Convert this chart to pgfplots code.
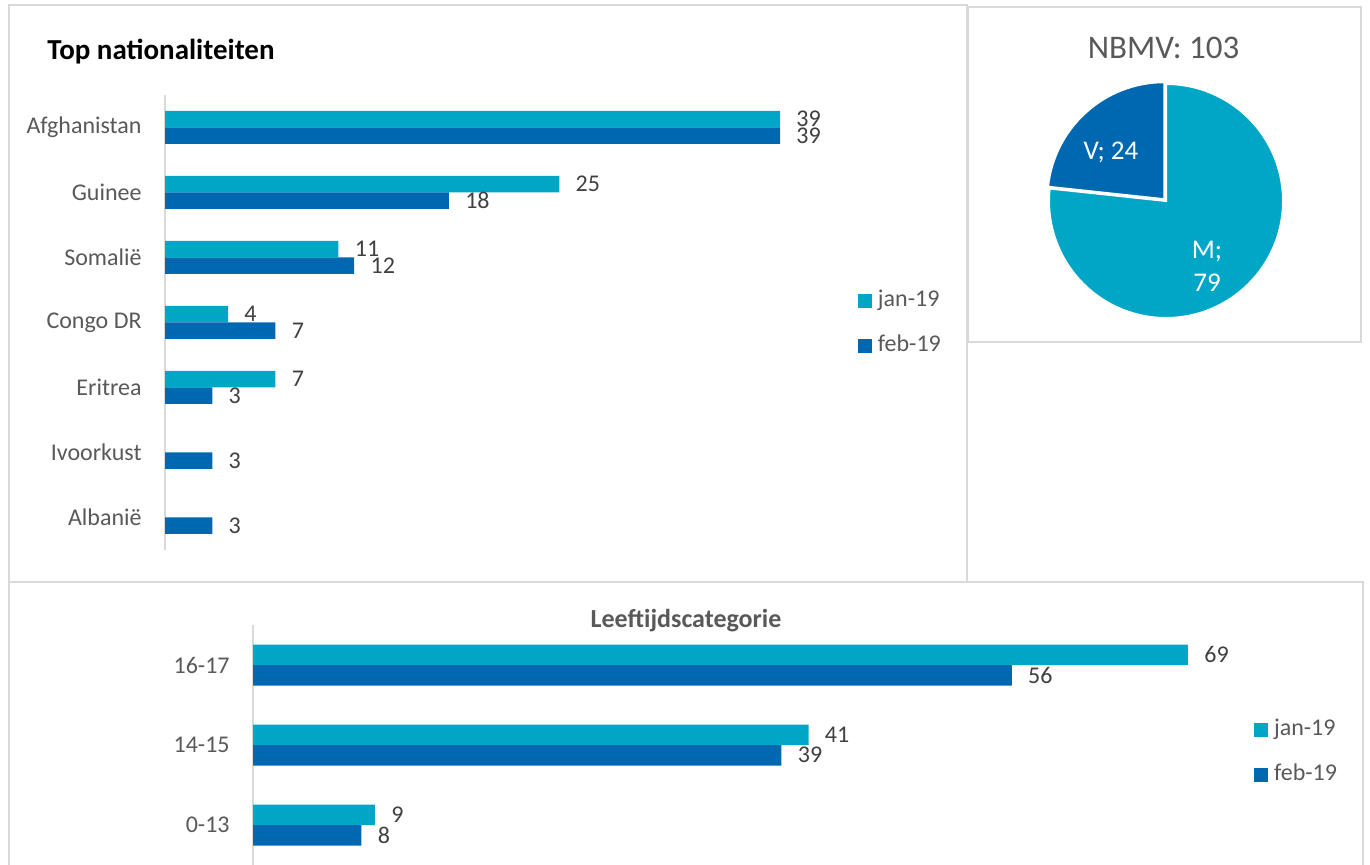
\documentclass[border=0pt]{standalone}
\usepackage{pgfplots}
\pgfplotsset{compat=1.18}
\usepackage{fontspec}
\setmainfont{Carlito}
\definecolor{jan}{HTML}{00A6C6}
\definecolor{feb}{HTML}{0068B1}
\definecolor{frame}{HTML}{D9D9D9}
\definecolor{txt}{HTML}{595959}
\definecolor{lbl}{HTML}{404040}
\pgfplotsset{
  mybars/.style={
    scale only axis, xbar, clip=false,
    axis x line=none, axis y line*=left,
    axis line style={frame, line width=1pt},
    major tick length=0pt,
    yticklabel style={font=\fontsize{12}{14}\selectfont, text=txt, inner sep=0pt, xshift=-11.5pt},
    nodes near coords,
    nodes near coords style={font=\fontsize{12}{14}\selectfont, text=lbl, anchor=west, inner sep=0pt, xshift=8pt},
    /pgf/number format/assume math mode=true,
    legend style={draw=none, fill=none, inner sep=0pt, outer sep=0pt,
      font=\fontsize{12}{14}\selectfont, text=txt, row sep=12.5pt, column sep=3pt,
      cells={anchor=west},
      nodes={inner sep=0pt, text height=8pt, text depth=2pt}},
    legend image code/.code={\fill[##1] (0pt,-3.5pt) rectangle (7pt,3.5pt);},
  }
}
\begin{document}
\begin{tikzpicture}[x=0.5pt,y=-0.5pt]
\useasboundingbox (0,0) rectangle (1370,865);
% frames
\draw[frame,line width=1pt] (9,870) -- (9,5) -- (967,5) -- (967,582);
\draw[frame,line width=1pt] (9,582) -- (1363,582) -- (1363,870);
\draw[frame,line width=1pt] (968,7) rectangle (1361,342);

% titles
\node[anchor=base west, inner sep=0pt, font=\fontsize{14.5}{16}\selectfont\bfseries] at (47,60) {Top nationaliteiten};
\node[anchor=base, inner sep=0pt, font=\fontsize{16.5}{18}\selectfont, text=txt] at (1163.5,59) {NBMV: 103};
\node[anchor=base, inner sep=0pt, font=\fontsize{13}{15}\selectfont\bfseries, text=txt] at (686,627) {Leeftijdscategorie};

% top bar chart
\begin{axis}[mybars,
  at={(82.5pt,-275pt)}, anchor=south west,
  width=346.95pt, height=227.5pt,
  xmin=0, xmax=44, ymin=-0.5, ymax=6.5,
  ytick={0,...,6},
  yticklabels={Albanië,Ivoorkust,Eritrea,Congo DR,Somalië,Guinee,Afghanistan},
  bar width=8.25pt,
  legend style={at={(0.9986,0.498)}, anchor=west},
]
\addplot[fill=jan, draw=none, bar shift=4.125pt] coordinates {(39,6) (25,5) (11,4) (4,3) (7,2)};
\addplot[fill=feb, draw=none, bar shift=-4.125pt] coordinates {(39,6) (18,5) (12,4) (7,3) (3,2) (3,1) (3,0)};
\legend{jan-19,feb-19}
\end{axis}

% bottom bar chart
\begin{axis}[mybars,
  at={(126.5pt,-432.5pt)}, anchor=south west,
  width=494.6pt, height=120pt,
  xmin=0, xmax=73, ymin=-0.5, ymax=2.5,
  ytick={0,1,2},
  yticklabels={0-13,14-15,16-17},
  bar width=10.25pt,
  legend style={at={(1.012,0.469)}, anchor=west},
]
\addplot[fill=jan, draw=none, bar shift=5.125pt] coordinates {(9,0) (41,1) (69,2)};
\addplot[fill=feb, draw=none, bar shift=-5.125pt] coordinates {(8,0) (39,1) (56,2)};
\legend{jan-19,feb-19}
\end{axis}

% pie chart (M = 79, V = 24)
\def\pieM{79}\def\pieV{24}
\pgfmathsetmacro{\aV}{90+\pieV/(\pieM+\pieV)*360}
\pgfmathsetmacro{\aMid}{(90+\aV)/2}
\begin{scope}[shift={(583pt,-100.5pt)}]
  \filldraw[fill=jan, draw=white, line width=1pt] (0pt,0pt) -- (90:58.5pt)
     arc[start angle=90, end angle=\aV-360, radius=58.5pt] -- cycle;
  \begin{scope}[shift={(\aMid:1.2pt)}]
  \filldraw[fill=feb, draw=white, line width=1pt] (0pt,0pt) -- (90:58.5pt)
     arc[start angle=90, end angle=\aV, radius=58.5pt] -- cycle;
  \end{scope}
\end{scope}
\node[text=white, font=\fontsize{13.5}{16.5}\selectfont, inner sep=0pt] at (1111,152) {V; 24};
\node[text=white, font=\fontsize{13.5}{16.5}\selectfont, inner sep=0pt, align=center] at (1207,266) {M;\\79};
\end{tikzpicture}
\end{document}
